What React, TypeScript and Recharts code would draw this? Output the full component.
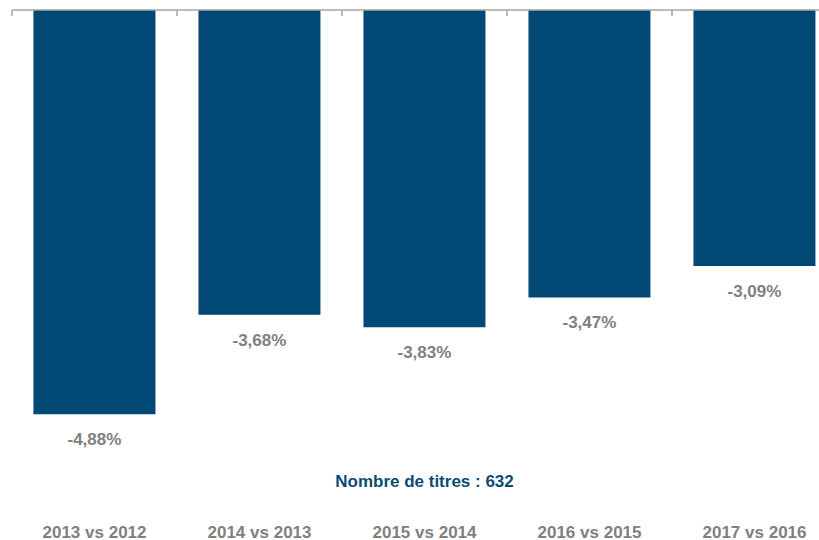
import React from "react";
import { BarChart, Bar, XAxis, YAxis, LabelList, Label } from "recharts";

const categories = ["2013 vs 2012", "2014 vs 2013", "2015 vs 2014", "2016 vs 2015", "2017 vs 2016"];
const values = [-4.88, -3.68, -3.83, -3.47, -3.09];
const valueLabels = ["-4,88%", "-3,68%", "-3,83%", "-3,47%", "-3,09%"];
const title = "Nombre de titres : 632";

const data = categories.map((c, i) => ({ cat: c, v: values[i], lbl: valueLabels[i] }));

const FONT = "'Liberation Sans', Arial, sans-serif";
const BAR = "#014874";
const GRAY = "#808080";
const AXIS = "#A6A6A6";
const TITLE = "#0D4B74";
const TICK_LEN = 6;

const renderValue = (props: any) => {
  const { x, y, width, height, value } = props;
  const bottom = Math.max(Number(y), Number(y) + Number(height));
  return (
    <text
      x={Number(x) + Number(width) / 2}
      y={bottom + 31}
      textAnchor="middle"
      fill={GRAY}
      fontFamily={FONT}
      fontWeight="bold"
      fontSize={17}
    >
      {value}
    </text>
  );
};

// tick marks at the boundaries between categories (band edges)
const boundaryTick = (props: any) => {
  const { x, y, payload, visibleTicksCount, index } = props;
  const half = Number(payload?.offset ?? 0);
  const left = Number(x) - half;
  const right = Number(x) + half;
  const yy = Number(y);
  return (
    <g>
      <line x1={left} x2={left} y1={yy - TICK_LEN} y2={yy} stroke={AXIS} strokeWidth={1.5} />
      {index === visibleTicksCount - 1 ? (
        <line x1={right} x2={right} y1={yy - TICK_LEN} y2={yy} stroke={AXIS} strokeWidth={1.5} />
      ) : null}
    </g>
  );
};

export default function App() {
  return (
    <div style={{ position: "absolute", left: 0, top: 0, width: 819, height: 540, overflow: "hidden", background: "#fff" }}>
      <BarChart
        width={850}
        height={540}
        data={data}
        margin={{ top: 10, right: 13, left: 12, bottom: 0 }}
        barCategoryGap="13%"
      >
        <XAxis
          dataKey="cat"
          axisLine={false}
          tickLine={false}
          height={33}
          tickSize={6}
          tickMargin={13}
          interval={0}
          tick={{ fill: GRAY, fontFamily: FONT, fontWeight: "bold", fontSize: 17 }}
        >
          <Label
            value={title}
            position="top"
            offset={20}
            fill={TITLE}
            fontFamily={FONT}
            fontWeight="bold"
            fontSize={17}
          />
        </XAxis>
        <XAxis
          xAxisId="top"
          dataKey="cat"
          orientation="top"
          interval={0}
          tick={boundaryTick}
          mirror
          height={1}
          tickSize={TICK_LEN}
          tickMargin={0}
          tickLine={false}
          axisLine={{ stroke: AXIS, strokeWidth: 1.5 }}
        />
        <YAxis hide domain={[-6, 0]} type="number" />
        <Bar dataKey="v" fill={BAR} isAnimationActive={false}>
          <LabelList dataKey="lbl" content={renderValue} />
        </Bar>
      </BarChart>
    </div>
  );
}
